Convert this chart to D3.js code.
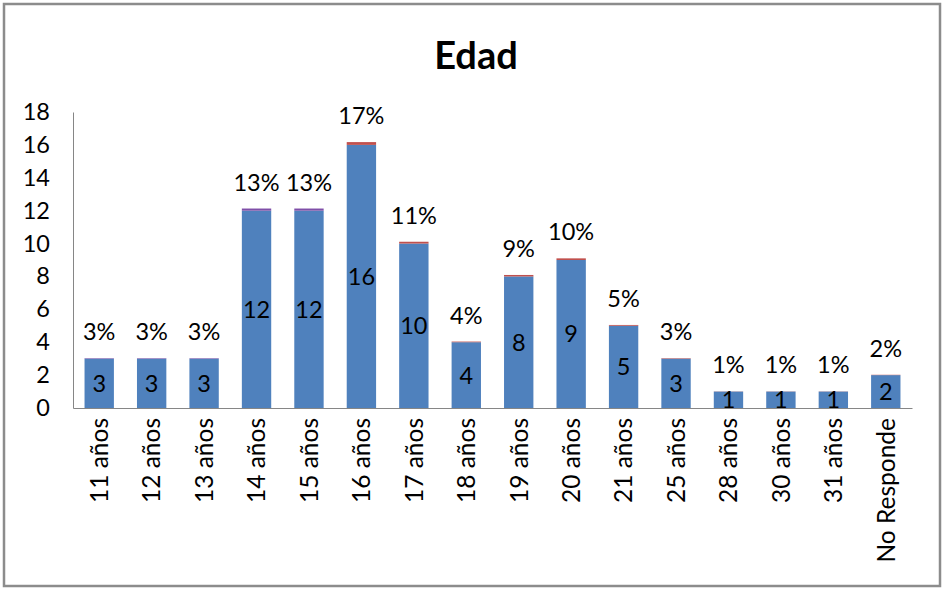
<!DOCTYPE html>
<html lang="es">
<head>
    <meta charset="UTF-8">
    <script src="https://cdn.jsdelivr.net/npm/d3@7"></script>
    <style>
        body{ margin:0; background:#fff; }
        svg text{ font-family:Lato, "Open Sans", sans-serif; fill:#000; }
        .axis path{ stroke:#868686; }
        .axis line{ display:none; }
    </style>
    <title>Edad</title>
</head>
<body>
    <script>
        var categories = ["11 años","12 años","13 años","14 años","15 años","16 años","17 años","18 años",
                          "19 años","20 años","21 años","25 años","28 años","30 años","31 años","No Responde"];
        var counts = [3,3,3,12,12,16,10,4,8,9,5,3,1,1,1,2];
        // porcentajes apilados encima: dos series (morada y roja)
        var pctPurple = [0.03,0.03,0.03,0.13,0.13,0,0,0,0,0,0,0,0,0,0,0];
        var pctRed    = [0,0,0,0,0,0.17,0.11,0.04,0.09,0.10,0.05,0.03,0.01,0.01,0.01,0.02];
        var yTicks = [0,2,4,6,8,10,12,14,16,18];

        var W = 947, H = 589;
        var margin = {left:73, right:35, top:112, bottom:181};
        var fs = "23.5px";

        var svg = d3.select("body").append("svg")
            .attr("width",W).attr("height",H);

        svg.append("rect")
            .attr("x",4).attr("y",4)
            .attr("width",936).attr("height",582)
            .attr("fill","none").attr("stroke","#8c8c8c").attr("stroke-width",2.5);

        var x = d3.scaleBand()
            .domain(categories)
            .range([margin.left, W-margin.right])
            .paddingInner(0.44).paddingOuter(0.22);
        var y = d3.scaleLinear()
            .domain([0,18])
            .range([H-margin.bottom, margin.top]);

        var rows = categories.map(function(c,i){
            return {cat:c, n:counts[i], p:pctPurple[i], r:pctRed[i]};
        });
        var stack = d3.stack().keys(["n","p","r"])(rows);
        var colors = {n:"#4f81bd", p:"#7f4fa8", r:"#c0504d"};

        svg.selectAll("g.serie")
            .data(stack)
            .enter().append("g")
            .attr("class","serie")
            .attr("fill",function(s){ return colors[s.key]; })
            .selectAll("rect")
            .data(function(s){ return s; })
            .enter().append("rect")
            .attr("x",function(d){ return x(d.data.cat); })
            .attr("width",x.bandwidth())
            .attr("y",function(d){ return y(d[1]); })
            .attr("height",function(d){ return y(d[0]) - y(d[1]); });

        // valores dentro de las barras
        svg.selectAll("text.val")
            .data(rows)
            .enter().append("text")
            .attr("class","val")
            .attr("x",function(d){ return x(d.cat) + x.bandwidth()/2; })
            .attr("y",function(d){ return (y(0) + y(d.n))/2; })
            .attr("dy","0.36em")
            .attr("text-anchor","middle")
            .style("font-size",fs)
            .text(function(d){ return d.n; });

        // porcentajes sobre las barras
        var fmt = d3.format(".0%");
        svg.selectAll("text.pct")
            .data(rows)
            .enter().append("text")
            .attr("class","pct")
            .attr("x",function(d){ return x(d.cat) + x.bandwidth()/2; })
            .attr("y",function(d){ return y(d.n + d.p + d.r) - 18; })
            .attr("text-anchor","middle")
            .style("font-size",fs)
            .text(function(d){ return fmt(d.p + d.r); });

        var yAxis = svg.append("g")
            .attr("class","axis")
            .attr("transform","translate("+margin.left+",0)")
            .call(d3.axisLeft(y).tickValues(yTicks).tickSize(0).tickPadding(23));
        yAxis.selectAll("text").style("font-size",fs);

        var xAxis = svg.append("g")
            .attr("class","axis")
            .attr("transform","translate(0,"+y(0)+")")
            .call(d3.axisBottom(x).tickSize(0));
        xAxis.selectAll("text")
            .style("font-size","24.5px")
            .attr("text-anchor","end")
            .attr("transform","rotate(-90)")
            .attr("x",-10)
            .attr("y",0)
            .attr("dy","0.36em");

        svg.append("text")
            .attr("x",476).attr("y",69)
            .attr("text-anchor","middle")
            .style("font-size","38px")
            .style("font-weight","bold")
            .text("Edad");
    </script>
</body>
</html>
